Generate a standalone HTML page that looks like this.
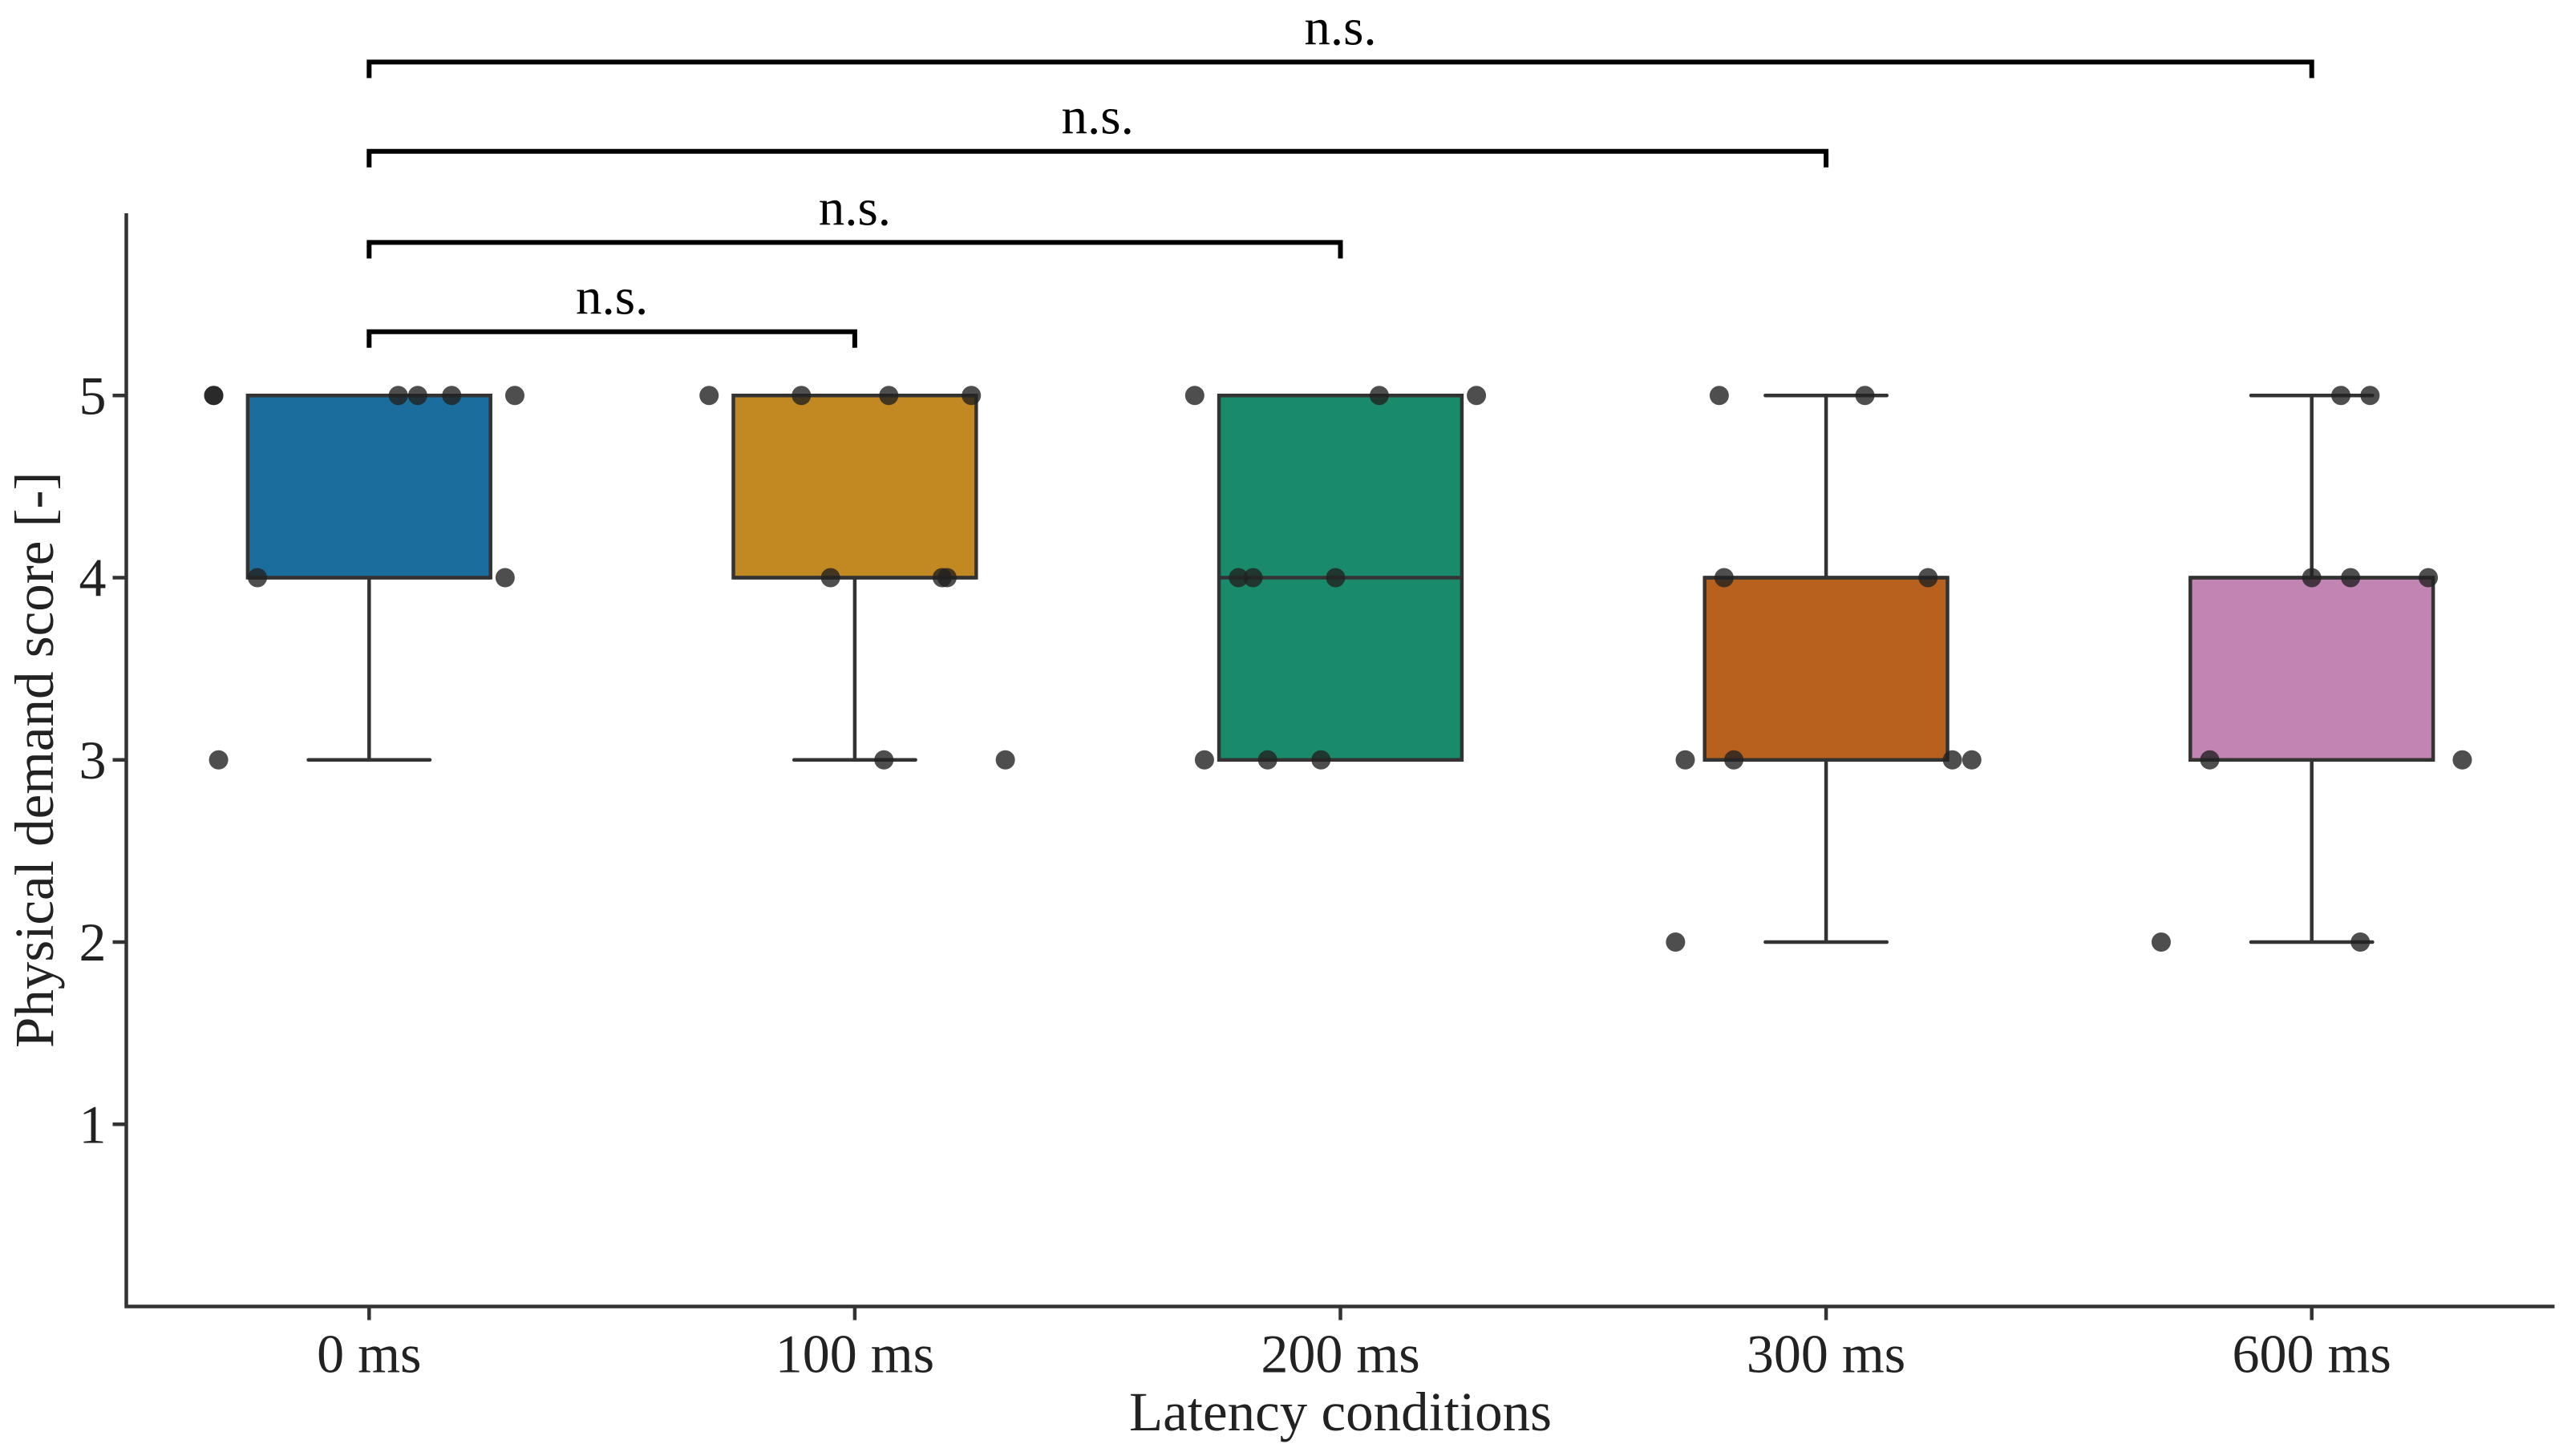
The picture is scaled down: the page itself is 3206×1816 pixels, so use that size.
<!DOCTYPE html>
<html><head><meta charset="utf-8"><style>
html,body{margin:0;padding:0;background:#fff;}
svg{display:block;font-family:"Liberation Serif","DejaVu Serif",serif;}
</style></head><body>
<svg id="chart" width="3206" height="1816" viewBox="0 0 3206 1816" xmlns="http://www.w3.org/2000/svg">
<g id="brackets"></g>
<g id="boxes"></g>
<g id="points"></g>
<g id="axes"></g>
</svg>
<script>
const categories = ["0 ms","100 ms","200 ms","300 ms","600 ms"];
const colors = ["#1a6d9c","#c28822","#1a8a6c","#b8611e","#c284b3"];
const q1 = [4,4,3,3,3];
const q3 = [5,5,5,4,4];
const medians = [4,4,4,4,4];
const whiskLow = [3,3,3,2,2];
const whiskHigh = [5,5,5,5,5];
const yTicks = [1,2,3,4,5];
// points: category index, jitter offset (category units), value
const ptCat = [0,0,0,0,0,0,0,0,0, 1,1,1,1,1,1,1,1,1, 2,2,2,2,2,2,2,2,2, 3,3,3,3,3,3,3,3,3, 4,4,4,4,4,4,4,4,4];
const ptJit = [-0.32,-0.32,0.06,0.10,0.17,0.30,-0.23,0.28,-0.31,
  -0.30,-0.11,0.07,0.24,-0.05,0.18,0.19,0.06,0.31,
  -0.30,0.08,0.28,-0.21,-0.18,-0.01,-0.28,-0.15,-0.04,
  -0.22,0.08,-0.21,0.21,-0.29,-0.19,0.26,0.30,-0.31,
  0.06,0.12,0.00,0.08,0.24,-0.21,0.31,-0.31,0.10];
const ptVal = [5,5,5,5,5,5,4,4,3,
  5,5,5,5,4,4,4,3,3,
  5,5,5,4,4,4,3,3,3,
  5,5,4,4,3,3,3,3,2,
  5,5,4,4,4,3,3,2,2];
const brFrom = [0,0,0,0];
const brTo = [1,2,3,4];
const brY = [5.35,5.84,6.34,6.83];
const brLabels = ["n.s.","n.s.","n.s.","n.s."];

const NS="http://www.w3.org/2000/svg";
const L=157.5,R=3185.5,T=266,B=1629.5;
const xs=i=>L+(i+0.5)*(R-L)/5;
const ys=v=>B-v*(B-T)/6;
const uw=(R-L)/5;
function mk(tag,attrs,parent){const e=document.createElementNS(NS,tag);for(const k in attrs)e.setAttribute(k,attrs[k]);parent.appendChild(e);return e;}
const gB=document.getElementById('boxes'),gP=document.getElementById('points'),gA=document.getElementById('axes'),gBr=document.getElementById('brackets');
const ec="#333333",lw=4.5;
categories.forEach((c,i)=>{
  const cx=xs(i);
  const g=mk('g',{},gB);
  
  
  let l=mk('line',{x1:cx,x2:cx,y1:ys(q1[i]),y2:ys(whiskLow[i]),stroke:ec,'stroke-width':lw},g);
  
  
  l=mk('line',{x1:cx,x2:cx,y1:ys(q3[i]),y2:ys(whiskHigh[i]),stroke:ec,'stroke-width':lw},g);
  
  
  l=mk('line',{x1:cx-uw*0.125,x2:cx+uw*0.125,y1:ys(whiskLow[i]),y2:ys(whiskLow[i]),stroke:ec,'stroke-width':lw,'stroke-linecap':'round'},g);
  
  
  l=mk('line',{x1:cx-uw*0.125,x2:cx+uw*0.125,y1:ys(whiskHigh[i]),y2:ys(whiskHigh[i]),stroke:ec,'stroke-width':lw,'stroke-linecap':'round'},g);
  
  
  const r=mk('rect',{x:cx-uw*0.25,y:ys(q3[i]),width:uw*0.5,height:ys(q1[i])-ys(q3[i]),fill:colors[i],stroke:ec,'stroke-width':lw},g);
  
  
  l=mk('line',{x1:cx-uw*0.25,x2:cx+uw*0.25,y1:ys(medians[i]),y2:ys(medians[i]),stroke:ec,'stroke-width':lw},g);
  
  
});
ptVal.forEach((v,k)=>{
  const c=mk('circle',{cx:xs(ptCat[k]+ptJit[k]),cy:ys(v),r:12,fill:'#222','fill-opacity':0.8},gP);
  
  
});
brY.forEach((v,k)=>{
  const x1=xs(brFrom[k]),x2=xs(brTo[k]),y=ys(v);
  const p=mk('path',{d:`M${x1},${y+20}V${y}H${x2}V${y+20}`,fill:'none',stroke:'#000','stroke-width':6},gBr);
  
  
  const t=mk('text',{x:(x1+x2)/2,y:y-22,'text-anchor':'middle','font-size':65,fill:'#000'},gBr);
  t.textContent=brLabels[k];
  
  
});
let a=mk('line',{x1:L,x2:L,y1:T,y2:B+2,stroke:ec,'stroke-width':4.5},gA);


a=mk('line',{x1:L-2,x2:R,y1:B,y2:B,stroke:ec,'stroke-width':4.5},gA);


yTicks.forEach(v=>{
  const y=ys(v);
  const tk=mk('line',{x1:L-17,x2:L,y1:y,y2:y,stroke:ec,'stroke-width':4.5},gA);
  
  
  const t=mk('text',{x:L-25,y:y+23,'text-anchor':'end','font-size':68,fill:'#222'},gA);
  t.textContent=v;
  
  
});
categories.forEach((c,i)=>{
  const x=xs(i);
  const tk=mk('line',{x1:x,x2:x,y1:B,y2:B+17,stroke:ec,'stroke-width':4.5},gA);
  
  
  const t=mk('text',{x:x,y:B+82,'text-anchor':'middle','font-size':68,fill:'#222'},gA);
  t.textContent=c;
  
  
});
let t=mk('text',{x:(L+R)/2,y:1784,'text-anchor':'middle','font-size':69,fill:'#222'},gA);
t.textContent="Latency conditions";


t=mk('text',{x:0,y:0,'text-anchor':'middle','font-size':69,fill:'#222',transform:`translate(66,${ys(3)}) rotate(-90)`},gA);
t.textContent="Physical demand score [-]";


</script>
</body></html>
